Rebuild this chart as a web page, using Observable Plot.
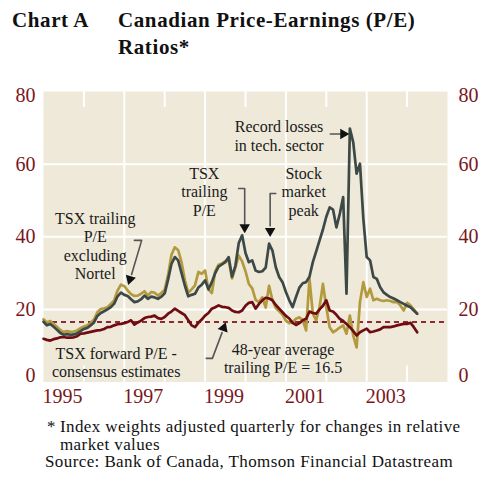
<!DOCTYPE html>
<html>
<head>
<meta charset="utf-8">
<script src="https://cdn.jsdelivr.net/npm/d3@7"></script>
<script src="https://cdn.jsdelivr.net/npm/@observablehq/plot@0.6"></script>
<style>
  html, body { margin: 0; padding: 0; background: #fff; }
  body { width: 484px; height: 482px; position: relative; overflow: hidden; font-family: "Liberation Serif", serif; color: #111; }
  .title { position: absolute; top: 7px; font-weight: bold; font-size: 21px; line-height: 27px; letter-spacing: 0.6px; }
  #chart { position: absolute; left: 0; top: 70px; }
  .note { position: absolute; font-size: 17px; line-height: 17.5px; letter-spacing: 0.4px; color: #111; white-space: nowrap; }
</style>
</head>
<body>
<div class="title" style="left:12px">Chart A</div>
<div class="title" style="left:118px">Canadian Price-Earnings (P/E)<br>Ratios*</div>
<div id="chart"></div>
<div class="note" style="left:47px; top:418px">*</div>
<div class="note" style="left:60px; top:418px">Index weights adjusted quarterly for changes in relative<br>market values</div>
<div class="note" style="left:45px; top:453px">Source: Bank of Canada, Thomson Financial Datastream</div>
<script>
// Monthly series, January 1995 onward
const startYear = 1995;
const tsxTrailing = [
  16.6,15.6,16.0,15.2,14.4,13.5,13.0,13.2,13.0,13.1,13.4,14.0,
  14.6,14.9,15.6,16.4,18.2,19.0,19.5,20.0,20.6,21.6,23.6,24.6,
  24.0,23.7,22.8,22.0,22.2,22.8,23.8,22.9,23.5,23.3,22.9,23.5,
  24.4,28.2,32.5,34.4,33.5,30.0,26.5,23.6,24.0,24.3,26.0,26.8,
  28.0,25.5,27.5,30.0,31.8,32.4,33.0,34.4,29.0,32.0,38.3,40.4,
  35.5,33.0,33.5,30.7,30.3,30.5,31.5,38.1,36.2,31.6,28.9,27.5,
  24.8,22.5,20.6,23.4,26.0,27.2,27.5,29.0,33.0,36.0,39.0,42.0,
  45.5,48.1,47.5,42.6,46.3,50.9,24.3,69.8,66.0,57.4,60.1,45.0,
  34.4,33.5,28.9,28.4,26.1,24.7,24.0,23.4,23.0,22.5,22.0,21.5,
  21.0,20.6,19.7,18.8
];
const tsxExNortel = [
  17.3,16.4,16.8,16.0,15.2,14.3,13.8,14.0,13.8,13.9,14.2,14.8,
  15.3,15.6,16.3,17.2,19.2,20.1,20.3,20.6,21.5,22.5,25.2,26.8,
  26.4,25.2,24.2,23.7,23.8,24.3,25.0,23.8,24.8,24.6,23.8,24.5,
  25.4,29.5,35.0,37.1,36.3,33.0,28.0,24.6,25.5,26.6,30.3,29.8,
  30.7,25.5,24.5,30.5,32.3,32.6,33.3,33.5,28.5,31.5,34.8,33.2,
  30.5,27.0,25.8,22.6,22.0,23.3,20.5,26.5,22.5,20.4,19.5,18.5,
  16.9,16.2,16.5,17.4,17.8,17.0,14.2,28.5,18.8,17.0,20.6,27.0,
  20.6,15.1,13.7,14.3,15.0,15.6,13.3,18.3,12.8,9.5,22.0,27.5,
  23.4,25.7,22.5,22.9,22.5,22.3,22.5,22.3,22.0,22.0,21.1,19.7,
  21.8,21.1,20.0,18.8
];
const tsxForward = [
  11.9,11.6,11.4,11.8,12.0,12.3,12.4,12.2,12.2,12.3,12.6,13.3,
  13.4,13.6,13.8,14.0,14.2,14.3,14.6,15.1,15.2,15.6,15.9,16.0,
  16.2,16.5,17.0,15.8,16.4,16.9,17.6,17.9,18.0,18.3,17.6,17.4,
  17.9,18.8,19.4,20.2,19.6,19.0,18.4,17.0,15.6,15.1,16.3,17.2,
  18.3,19.0,20.2,20.6,21.1,20.7,20.6,20.4,19.7,19.3,19.2,19.7,
  21.0,21.8,22.0,20.2,21.5,22.5,23.2,23.0,22.5,21.2,20.2,19.2,
  18.2,17.5,16.3,15.7,16.2,17.0,17.4,19.4,19.0,18.8,20.0,21.0,
  22.5,19.7,19.4,18.5,17.4,16.8,16.0,15.1,14.0,12.8,13.7,14.2,
  14.7,13.7,13.9,14.2,14.5,15.1,15.1,15.1,15.3,15.6,15.8,16.0,
  16.0,16.3,15.1,13.7
];
const longRunAverage = 16.5;
const yTicks = [0, 20, 40, 60, 80];
const yearLabels = [1995, 1997, 1999, 2001, 2003];
const fullGridYears = [1997, 1999, 2001, 2003];
const shortTickYears = [1996, 1998, 2000, 2002, 2004];

// Annotations (decimal year, value)
const notes = [
  {x: 2000.83, y: 67.9, text: "Record losses\nin tech. sector"},
  {x: 1998.98, y: 52.5, text: "TSX\ntrailing\nP/E"},
  {x: 2001.44, y: 52.5, text: "Stock\nmarket\npeak"},
  {x: 1996.28, y: 37.6, text: "TSX trailing\nP/E\nexcluding\nNortel"},
  {x: 1996.80, y: 5.5, text: "TSX forward P/E -\nconsensus estimates"},
  {x: 2000.93, y: 6.5, text: "48-year average\ntrailing P/E = 16.5"}
];
const leaders = [
  {id: "record", pts: [[2002.10, 68.3], [2002.35, 68.3]]},
  {id: "trail", pts: [[1999.83, 53.3], [1999.98, 53.3], [1999.98, 43.5]]},
  {id: "peak", pts: [[2000.75, 51.9], [2000.61, 51.9], [2000.61, 43.0]]},
  {id: "nortel", pts: [[1997.25, 39.0], [1997.43, 39.0], [1997.18, 29.6]]},
  {id: "avg", pts: [[1999.03, 6.5], [1999.18, 6.5], [1999.42, 13.6]]}
];
const heads = [
  {x: 2002.42, y: 68.3, rot: 90},
  {x: 1999.98, y: 42.6, rot: 180},
  {x: 2000.61, y: 41.6, rot: 180},
  {x: 1997.14, y: 28.3, rot: 197},
  {x: 1999.46, y: 14.9, rot: 20}
];

const toRows = (arr, name) => arr.map((v, i) => ({t: startYear + i / 12, v, name}));
const rowsTrail = toRows(tsxTrailing, "trail");
const rowsEx = toRows(tsxExNortel, "ex");
const rowsFwd = toRows(tsxForward, "fwd");
const leaderRows = leaders.flatMap(l => l.pts.map(p => ({id: l.id, x: p[0], y: p[1]})));

const labelColor = "#7a1622";
const font = "Liberation Serif";

const chart = Plot.plot({
  width: 484,
  height: 345,
  marginLeft: 43,
  marginRight: 37,
  marginTop: 21,
  marginBottom: 33.5,
  x: {type: "linear", domain: [1995, 2005], axis: null},
  y: {domain: [0, 80], axis: null},
  style: {fontFamily: font, background: "transparent"},
  marks: [
    Plot.frame({fill: "#eee9d9", stroke: null}),
    Plot.ruleY(yTicks.filter(d => d > 0 && d < 80), {stroke: "white", strokeWidth: 2}),
    Plot.ruleX(fullGridYears, {stroke: "white", strokeWidth: 2}),
    Plot.ruleX(shortTickYears, {y1: 0, y2: 4.4, stroke: "white", strokeWidth: 2}),
    Plot.ruleX(shortTickYears, {y1: 75.6, y2: 80, stroke: "white", strokeWidth: 2}),
    Plot.ruleY([longRunAverage], {stroke: "#8c2a36", strokeWidth: 2, strokeDasharray: "5,4"}),
    Plot.line(rowsEx, {x: "t", y: "v", stroke: "#b49a3e", strokeWidth: 2.7, strokeLinejoin: "round"}),
    Plot.line(rowsFwd, {x: "t", y: "v", stroke: "#6e0c12", strokeWidth: 2.7, strokeLinejoin: "round"}),
    Plot.line(rowsTrail, {x: "t", y: "v", stroke: "#3c4946", strokeWidth: 2.7, strokeLinejoin: "round"}),
    // annotation leaders and heads
    Plot.line(leaderRows, {x: "x", y: "y", z: "id", stroke: "#555", strokeWidth: 1.6}),
    Plot.dot(heads, {x: "x", y: "y", rotate: "rot", symbol: "triangle", r: 3.9, fill: "#111", stroke: null}),
    Plot.text(notes, {x: "x", y: "y", text: "text", fontSize: 16, lineHeight: 1.15, fill: "#1a1a1a", textAnchor: "middle", lineAnchor: "middle"}),
    // y tick labels, left and right
    Plot.text(yTicks.filter(d => d > 0 && d < 80), {x: 1995, y: d => d, text: d => String(d), dx: -8, textAnchor: "end", fontSize: 20, fill: labelColor}),
    Plot.text([80], {x: 1995, y: d => d, text: d => String(d), dx: -8, dy: 4, textAnchor: "end", fontSize: 20, fill: labelColor}),
    Plot.text([0], {x: 1995, y: d => d, text: d => String(d), dx: -8, dy: -6, textAnchor: "end", fontSize: 20, fill: labelColor}),
    Plot.text(yTicks.filter(d => d > 0 && d < 80), {x: 2005, y: d => d, text: d => String(d), dx: 11, textAnchor: "start", fontSize: 20, fill: labelColor}),
    Plot.text([80], {x: 2005, y: d => d, text: d => String(d), dx: 11, dy: 4, textAnchor: "start", fontSize: 20, fill: labelColor}),
    Plot.text([0], {x: 2005, y: d => d, text: d => String(d), dx: 11, dy: -6, textAnchor: "start", fontSize: 20, fill: labelColor}),
    // year labels
    Plot.text(yearLabels, {x: d => d + 0.47, y: 0, text: d => String(d), dy: 15, fontSize: 20, fill: labelColor, textAnchor: "middle"})
  ]
});
document.getElementById("chart").appendChild(chart);
</script>
</body>
</html>
